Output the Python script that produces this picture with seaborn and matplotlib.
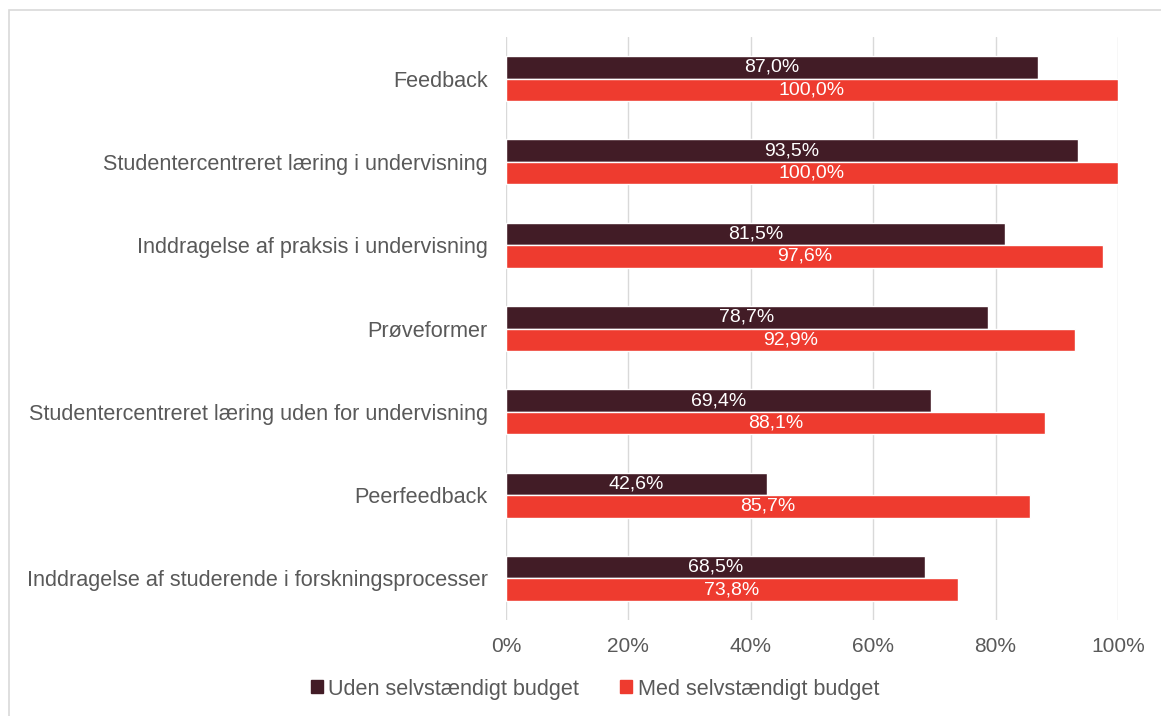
import matplotlib
matplotlib.use("Agg")
import matplotlib.pyplot as plt
import matplotlib.patches as mpatches
import seaborn as sns
import pandas as pd

categories = [
    "Feedback",
    "Studentercentreret læring i undervisning",
    "Inddragelse af praksis i undervisning",
    "Prøveformer",
    "Studentercentreret læring uden for undervisning",
    "Peerfeedback",
    "Inddragelse af studerende i forskningsprocesser",
]
uden_budget = [87.0, 93.5, 81.5, 78.7, 69.4, 42.6, 68.5]
med_budget = [100.0, 100.0, 97.6, 92.9, 88.1, 85.7, 73.8]
series_names = ["Uden selvstændigt budget", "Med selvstændigt budget"]
tick_values = [0, 20, 40, 60, 80, 100]

colors = ["#421c26", "#ee3b2f"]
text_grey = "#595959"

sns.set_theme(style="white")
plt.rcParams["font.family"] = ["Liberation Sans", "DejaVu Sans"]

df = pd.DataFrame({
    "kategori": categories * 2,
    "andel": uden_budget + med_budget,
    "gruppe": [series_names[0]] * len(categories) + [series_names[1]] * len(categories),
})

fig = plt.figure(figsize=(11.61, 7.16), dpi=100)
ax = fig.add_axes([506 / 1161, 1 - 620 / 716, (1118 - 506) / 1161, (620 - 37) / 716])

sns.barplot(
    data=df, y="kategori", x="andel", hue="gruppe", order=categories,
    hue_order=series_names, palette=colors, width=0.54, orient="h",
    saturation=1, ax=ax, legend=False,
)

ax.set_xlim(0, 100)
ax.set_xticks(tick_values)
ax.set_xticklabels([f"{v}%" for v in tick_values], fontsize=15, color=text_grey)
ax.tick_params(axis="y", labelsize=15.6, labelcolor=text_grey, length=0, pad=13)
ax.tick_params(axis="x", length=0, pad=12)
ax.set_xlabel("")
ax.set_ylabel("")
ax.xaxis.grid(True, color="#d9d9d9", linewidth=1)
ax.set_axisbelow(True)
for side in ["top", "right", "bottom", "left"]:
    ax.spines[side].set_visible(False)

for container in ax.containers:
    labels = [f"{v:.1f}%".replace(".", ",") for v in container.datavalues]
    ax.bar_label(container, labels=labels, label_type="center", color="white", fontsize=14)

handles = [mpatches.Patch(color=c, label=n) for c, n in zip(colors, series_names)]
fig.legend(
    handles=handles, loc="center", bbox_to_anchor=(595 / 1161, 1 - 689 / 716), ncol=2,
    frameon=False, fontsize=15.6, labelcolor=text_grey, handlelength=0.55,
    handleheight=0.55, handletextpad=0.25, columnspacing=1.9,
)

fig.patches.append(mpatches.Rectangle(
    (9 / 1161, -0.1), 1.2, 1 - 10 / 716 + 0.1, transform=fig.transFigure,
    fill=False, edgecolor="#d9d9d9", linewidth=1.2, zorder=0,
))

fig.savefig("out.png", dpi=100, facecolor="white")
